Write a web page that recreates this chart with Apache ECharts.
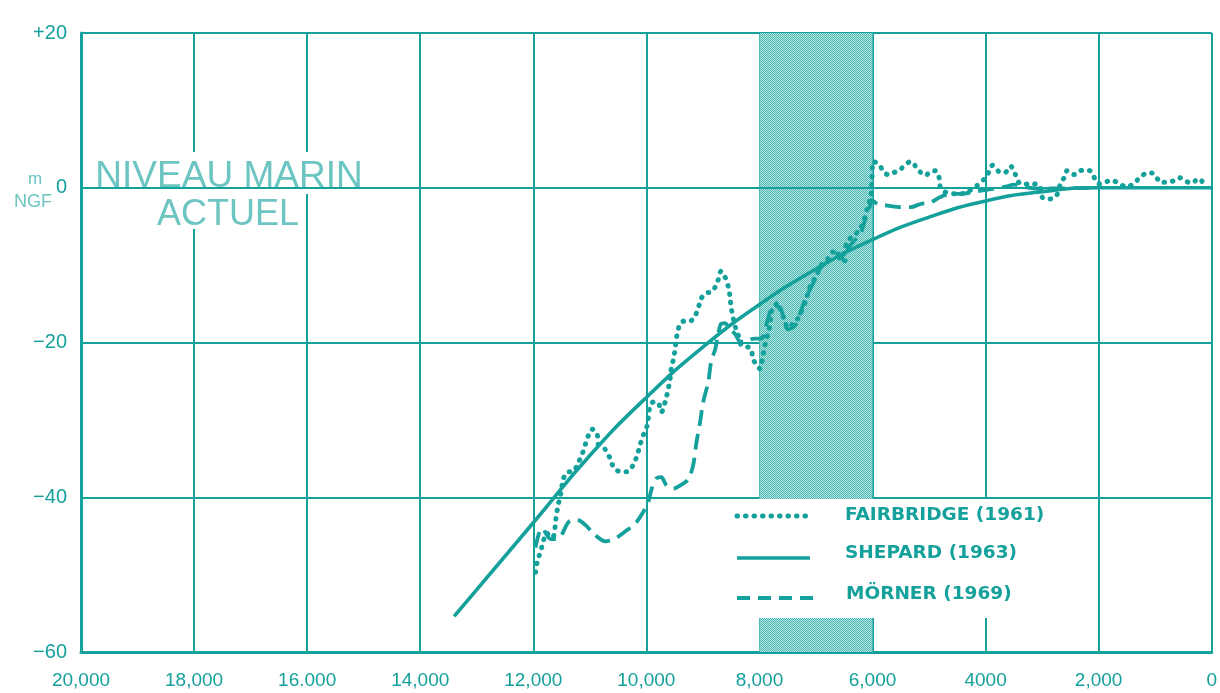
<!DOCTYPE html>
<html>
<head>
<meta charset="utf-8">
<script src="https://cdn.jsdelivr.net/npm/echarts@6/dist/echarts.min.js"></script>
<style>
  html, body { margin: 0; padding: 0; background: #fff; }
  #chart { width: 1220px; height: 693px; }
</style>
</head>
<body>
<div id="chart"></div>
<script>
// Sea-level curves (years BP, metres NGF)
const fairbridgeYears = [
  11960,11930,11870,11820,11760,11700,11640,11600,11560,11520,
  11490,11470,11380,11300,11210,11140,11080,11030,10960,10870,
  10850,10730,10640,10580,10460,10340,10230,10160,10110,10050,
  9980,9960,9930,9880,9790,9735,9665,9610,9580,9560,
  9520,9490,9470,9435,9400,9310,9220,9135,9080,9030,
  8940,8850,8780,8730,8680,8610,8550,8520,8500,8465,
  8430,8380,8325,8240,8150,8115,8060,7990,7970,7935,
  7900,7850,7810,7795,7760,7670,7620,7550,7495,7410,
  7320,7265,7195,7140,7090,7000,6915,6790,6700,6560,
  6440,6315,6210,6140,6085,6030,6010,5980,5870,5820,
  5730,5610,5520,5430,5325,5240,5150,5060,4990,4900,
  4850,4815,4800,4730,4620,4500,4375,4270,4180,4090,
  4000,3930,3880,3830,3740,3650,3560,3490,3440,3385,
  3260,3140,3030,3000,2910,2770,2700,2680,2610,2560,
  2435,2330,2205,2115,2065,1990,1890,1765,1640,1500,
  1375,1270,1145,1060,970,920,795,670,565,475,
  350,230,140,50
];
const fairbridgeLevels = [
  -49.7,-48.3,-47,-45.6,-44.6,-45.2,-45,-42.8,-41,-39.8,
  -38.4,-37.6,-36.7,-36.7,-35.6,-34.5,-33.2,-32.1,-31.2,-31.9,
  -33.2,-33.8,-35,-36.1,-36.7,-36.7,-35.8,-34.5,-33.2,-31.9,
  -30.6,-29.3,-28.1,-27.7,-27.8,-29,-27.6,-25.9,-24.7,-23.4,
  -22.1,-20.8,-19.5,-18.3,-17.5,-17.2,-17.2,-16.5,-15.5,-14.3,
  -13.6,-13.5,-12.8,-11.9,-10.8,-11.5,-12.8,-14.1,-15.5,-16.8,
  -17.9,-18.9,-20.3,-20.5,-20.8,-22.1,-22.8,-23.4,-22.9,-21.6,
  -20.3,-18.9,-17.6,-16.3,-15.5,-14.9,-15.9,-17.2,-18.1,-17.6,
  -16.9,-16.1,-14.9,-13.6,-12.5,-11.5,-10.1,-9.2,-8.3,-9.2,
  -6.9,-6.1,-5.2,-3.9,-2.5,-1.2,1,3.4,2.9,2.2,
  1.7,2,2.3,2.9,3.4,2.8,2,1.6,2,2.2,
  2,1,0.1,-0.5,-0.7,-0.8,-0.7,-0.3,0.1,0.7,
  1.3,2.2,2.9,2.6,2,2,2.8,2,1.1,0.5,
  0.5,0.5,0.1,-1.2,-1.5,-1.2,-0.3,0.5,1.3,2.2,
  1.7,2.2,2.3,2,1.1,0.5,0.7,1,0.5,0.1,
  0.6,1.3,1.9,1.9,1.3,0.7,0.7,0.9,1.3,0.9,
  0.6,1.2,0.7,0.9
];

const shepardYears  = [13400, 12000, 11000, 10000, 9000, 8000, 7000, 6000, 5000, 4000, 3000, 2000, 1000, 0];
const shepardLevels = [-55.4, -43.3, -34.6, -27.1, -20.6, -15.1, -10.5, -6.7, -3.8, -1.7, -0.5, 0, 0, 0];

const mornerYears = [
  11960,11905,11850,11690,11550,11375,11235,11075,10935,10725,
  10545,10370,10195,10055,9965,9910,9825,9735,9650,9525,
  9385,9260,9170,9120,9050,8995,8905,8855,8780,8730,
  8680,8610,8520,8430,8340,8255,8165,8080,7970,7850,
  7760,7635,7495,7370,7285,7195,7110,7020,6930,6790,
  6615,6490,6440,6315,6225,6175,6120,6050,6015,5910,
  5730,5500,5325,5150,4975,4800,4620,4445,4200,4020,
  3845,3670,3490,3315,3085,2910,2030
];
const mornerLevels = [
  -46.5,-44.8,-44,-45.4,-45.3,-43.2,-42.9,-43.6,-44.7,-45.7,
  -45.3,-44.4,-43.4,-41.9,-40.6,-39,-37.6,-37.4,-38.4,-38.9,
  -38.4,-37.7,-35.8,-33.2,-30.3,-27.7,-25.1,-22.5,-20.8,-18.9,
  -17.6,-17.5,-18.3,-18.9,-19.9,-19.9,-19.6,-19.5,-19.5,-17,
  -15.3,-15.5,-18.3,-17.8,-16.3,-14.5,-13.2,-11.9,-10.5,-9.5,
  -8.5,-9.5,-7.9,-6.8,-6.1,-5.2,-3.9,-2.5,-1.6,-2.1,
  -2.3,-2.5,-2.5,-2.1,-1.9,-1.2,-0.8,-0.8,-0.5,-0.3,
  -0.1,0.1,0.4,0.1,-0.1,-0.1,0
];

// Shaded interval (years BP)
const bandRange = [8000, 6000];

// Axis tick labels
const xTickLabels = ['20,000','18,000','16.000','14,000','12,000','10,000','8,000','6,000','4000','2,000','0'];
const yTickLabels = { '20': '+20', '0': '0', '-20': '\u221220', '-40': '\u221240', '-60': '\u221260' };

const seriesNames = ['FAIRBRIDGE (1961)', 'SHEPARD (1963)', 'M\u00D6RNER (1969)'];

const TEAL = '#14a09b';
const TEAL_LIGHT = '#6cc5c1';

const pair = (xs, ys) => xs.map((x, i) => [x, ys[i]]);

// halftone fill for the shaded interval
const dots = document.createElement('canvas');
dots.width = 2; dots.height = 2;
const dctx = dots.getContext('2d');
dctx.fillStyle = '#b4e3e0'; dctx.fillRect(0, 0, 2, 2);
dctx.fillStyle = '#4fb9b5'; dctx.fillRect(0, 0, 1, 1); dctx.fillRect(1, 1, 1, 1);

const chart = echarts.init(document.getElementById('chart'), null, { renderer: 'canvas' });

const legendX = 727, legendY = 499;
const keyFont = 'bold 18.5px "DejaVu Sans", sans-serif';

chart.setOption({
  backgroundColor: '#ffffff',
  animation: false,
  grid: { left: 81, right: 5, top: 33, bottom: 41, containLabel: false },
  xAxis: {
    type: 'value', inverse: true, min: 0, max: 20000, interval: 2000,
    axisLine: { show: true, onZero: false, lineStyle: { color: TEAL, width: 3 } },
    axisTick: { show: false },
    splitLine: { show: true, lineStyle: { color: TEAL, width: 2 } },
    axisLabel: {
      margin: 19, color: TEAL, fontSize: 19, fontFamily: 'Liberation Sans, Arial, sans-serif',
      formatter: v => xTickLabels[Math.round((20000 - v) / 2000)]
    }
  },
  yAxis: {
    type: 'value', min: -60, max: 20, interval: 20,
    axisLine: { show: true, onZero: false, lineStyle: { color: TEAL, width: 3 } },
    axisTick: { show: false },
    splitLine: { show: true, lineStyle: { color: TEAL, width: 2 } },
    axisLabel: {
      margin: 14, color: TEAL, fontSize: 20, fontFamily: 'Liberation Sans, Arial, sans-serif',
      formatter: v => yTickLabels[String(v)]
    }
  },
  series: [
    {
      name: 'band', type: 'line', data: [], z: -1, silent: true,
      markArea: {
        silent: true,
        itemStyle: { color: { image: dots, repeat: 'repeat' }, opacity: 1 },
        data: [[{ xAxis: bandRange[0], yAxis: 20 }, { xAxis: bandRange[1], yAxis: -60 }]]
      }
    },
    {
      name: seriesNames[0], type: 'line', data: pair(fairbridgeYears, fairbridgeLevels),
      showSymbol: false, smooth: 0.3, z: 3,
      lineStyle: { color: TEAL, width: 5, type: [0.5, 8], cap: 'round' }
    },
    {
      name: seriesNames[1], type: 'line', data: pair(shepardYears, shepardLevels),
      showSymbol: false, smooth: 0.5, z: 3,
      lineStyle: { color: TEAL, width: 3.6 },
      markLine: {
        silent: true, symbol: ['none', 'none'], label: { show: false },
        lineStyle: { color: TEAL, width: 2, type: 'solid' },
        data: [{ yAxis: 0 }]
      }
    },
    {
      name: seriesNames[2], type: 'line', data: pair(mornerYears, mornerLevels),
      showSymbol: false, smooth: 0.3, z: 3,
      lineStyle: { color: TEAL, width: 3.8, type: [16, 8] }
    }
  ],
  graphic: {
    elements: [
      // masks behind the sea-level caption
      { type: 'rect', z: 1, silent: true, shape: { x: 90, y: 152, width: 278, height: 42 }, style: { fill: '#fff' } },
      { type: 'rect', z: 1, silent: true, shape: { x: 152, y: 192, width: 150, height: 37 }, style: { fill: '#fff' } },
      { type: 'text', z: 4, silent: true, x: 229, y: 177,
        style: { text: 'NIVEAU MARIN', fill: TEAL_LIGHT, font: '37px "Liberation Sans", Arial, sans-serif', textAlign: 'center', textVerticalAlign: 'middle' } },
      { type: 'text', z: 4, silent: true, x: 228, y: 215,
        style: { text: 'ACTUEL', fill: TEAL_LIGHT, font: '36px "Liberation Sans", Arial, sans-serif', textAlign: 'center', textVerticalAlign: 'middle' } },
      // unit label
      { type: 'text', z: 4, silent: true, x: 35, y: 179,
        style: { text: 'm', fill: TEAL_LIGHT, font: '17px "Liberation Sans", Arial, sans-serif', textAlign: 'center', textVerticalAlign: 'middle' } },
      { type: 'text', z: 4, silent: true, x: 33, y: 202,
        style: { text: 'NGF', fill: TEAL_LIGHT, font: '18px "Liberation Sans", Arial, sans-serif', textAlign: 'center', textVerticalAlign: 'middle' } },
      // key
      { type: 'rect', z: 10, silent: true, shape: { x: legendX, y: legendY, width: 339, height: 119 }, style: { fill: '#fff' } },
      { type: 'line', z: 11, silent: true, shape: { x1: legendX + 10, y1: legendY + 17, x2: legendX + 86, y2: legendY + 17 },
        style: { stroke: TEAL, lineWidth: 5, lineDash: [0.5, 8], lineCap: 'round' } },
      { type: 'line', z: 11, silent: true, shape: { x1: legendX + 10, y1: legendY + 59, x2: legendX + 83, y2: legendY + 59 },
        style: { stroke: TEAL, lineWidth: 3.6 } },
      { type: 'line', z: 11, silent: true, shape: { x1: legendX + 10, y1: legendY + 99, x2: legendX + 86, y2: legendY + 99 },
        style: { stroke: TEAL, lineWidth: 3.8, lineDash: [13, 8] } },
      { type: 'text', z: 11, silent: true, x: legendX + 118, y: legendY + 16,
        style: { text: seriesNames[0], fill: TEAL, font: keyFont, textVerticalAlign: 'middle' } },
      { type: 'text', z: 11, silent: true, x: legendX + 118, y: legendY + 54,
        style: { text: seriesNames[1], fill: TEAL, font: keyFont, textVerticalAlign: 'middle' } },
      { type: 'text', z: 11, silent: true, x: legendX + 119, y: legendY + 95,
        style: { text: seriesNames[2], fill: TEAL, font: keyFont, textVerticalAlign: 'middle' } }
    ]
  }
});
</script>
</body>
</html>
